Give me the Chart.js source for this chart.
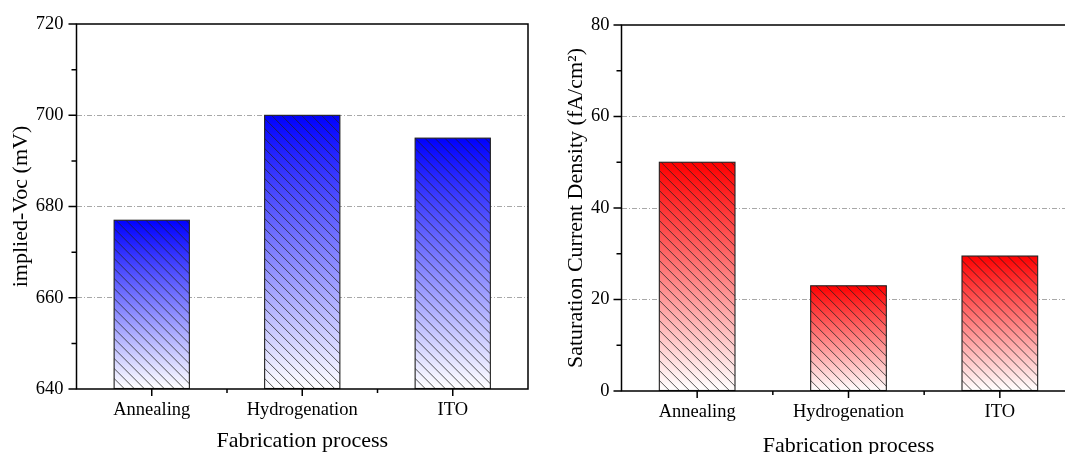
<!DOCTYPE html>
<html>
<head>
<meta charset="utf-8">
<script src="https://cdn.jsdelivr.net/npm/chart.js@4.4.1/dist/chart.umd.min.js"></script>
<style>
  html, body { margin: 0; padding: 0; background: #fff; overflow: hidden; width: 1065px; height: 454px; }
  #wrap { position: relative; width: 1065px; height: 454px; overflow: hidden; }
  canvas { position: absolute; top: 0; }
  #left { left: 0; }
  #right { left: 545px; }
</style>
</head>
<body>
<div id="wrap">
  <canvas id="left" width="545" height="454"></canvas>
  <canvas id="right" width="560" height="454"></canvas>
</div>
<script>
// Process steps on the x axis
const categories = ['Annealing', 'Hydrogenation', 'ITO'];

// implied open-circuit voltage after each step (mV)
const impliedVoc = [677, 700, 695];
const vocRange = [640, 720];

// saturation current density after each step (fA/cm²)
const saturationJ0 = [50, 23, 29.5];
const j0Range = [0, 80];

const SERIF = "'Liberation Serif', 'Times New Roman', serif";

// Gradient-filled, hatched bars plus the boxed frame with major/minor ticks
const framePlugin = {
  id: 'frame',
  afterDatasetsDraw(chart, args, opts) {
    const ctx = chart.ctx;
    const area = chart.chartArea;
    const meta = chart.getDatasetMeta(0);
    meta.data.forEach((bar) => {
      const p = bar.getProps(['x', 'y', 'base', 'width'], true);
      const x0 = p.x - p.width / 2, x1 = p.x + p.width / 2;
      const top = Math.min(p.y, p.base), bottom = Math.max(p.y, p.base);
      const g = ctx.createLinearGradient(0, top, 0, bottom);
      g.addColorStop(0, opts.color);
      g.addColorStop(1, '#ffffff');
      ctx.save();
      ctx.fillStyle = g;
      ctx.fillRect(x0, top, x1 - x0, bottom - top);
      // diagonal hatching
      ctx.beginPath();
      ctx.rect(x0, top, x1 - x0, bottom - top);
      ctx.clip();
      ctx.strokeStyle = 'rgba(35,35,35,0.85)';
      ctx.lineWidth = 0.9;
      ctx.beginPath();
      const h = bottom - top;
      for (let sx = x0 - h - 10; sx < x1 + 10; sx += 10) {
        ctx.moveTo(sx, top);
        ctx.lineTo(sx + h, bottom);
      }
      ctx.stroke();
      ctx.restore();
      ctx.save();
      ctx.strokeStyle = '#222';
      ctx.lineWidth = 1.1;
      ctx.strokeRect(x0, top, x1 - x0, bottom - top);
      ctx.restore();
    });

    const ys = chart.scales.y;
    const xs = chart.scales.x;
    ctx.save();
    ctx.strokeStyle = '#000';
    ctx.lineWidth = 1.5;
    ctx.beginPath();
    ctx.rect(area.left, area.top, area.right - area.left, area.bottom - area.top);
    ctx.stroke();

    // y ticks: major every 20, minor every 10
    ctx.beginPath();
    for (let v = ys.min; v <= ys.max; v += 10) {
      const py = ys.getPixelForValue(v);
      const len = ((v - ys.min) % 20 === 0) ? 8 : 5;
      ctx.moveTo(area.left, py);
      ctx.lineTo(area.left - len, py);
    }
    // x ticks: major at category centres, minor at boundaries
    const n = categories.length;
    for (let i = 0; i < n; i++) {
      const px = xs.getPixelForValue(i);
      ctx.moveTo(px, area.bottom);
      ctx.lineTo(px, area.bottom + 7);
    }
    for (let i = 0; i < n - 1; i++) {
      const px = (xs.getPixelForValue(i) + xs.getPixelForValue(i + 1)) / 2;
      ctx.moveTo(px, area.bottom);
      ctx.lineTo(px, area.bottom + 4);
    }
    ctx.stroke();
    ctx.restore();
  }
};

function makeChart(id, values, range, color, yTitle, geo) {
  return new Chart(document.getElementById(id), {
    type: 'bar',
    data: {
      labels: categories,
      datasets: [{
        data: values,
        base: range[0],
        backgroundColor: 'rgba(0,0,0,0)',
        borderWidth: 0,
        categoryPercentage: 1,
        barPercentage: 0.5
      }]
    },
    options: {
      responsive: false,
      animation: false,
      devicePixelRatio: 1,
      layout: { padding: { top: geo.top, right: geo.right, left: 0, bottom: 0 } },
      plugins: {
        legend: { display: false },
        tooltip: { enabled: false },
        frame: { color: color }
      },
      scales: {
        x: {
          grid: { display: false, drawTicks: false },
          border: { display: false },
          ticks: {
            color: '#000',
            padding: 10,
            font: { family: SERIF, size: 18.5 }
          },
          title: {
            display: true,
            text: 'Fabrication process',
            color: '#000',
            font: { family: SERIF, size: 22, lineHeight: 1 },
            padding: { top: 0, bottom: geo.xTitlePad }
          },
          afterFit: (s) => { s.height = geo.xHeight; }
        },
        y: {
          min: range[0],
          max: range[1],
          grid: {
            drawTicks: false,
            lineWidth: 1,
            color: (c) => (c.tick && (c.tick.value === range[0] || c.tick.value === range[1]))
              ? 'rgba(0,0,0,0)' : '#a8a8a8'
          },
          border: { display: false, dash: [5, 2, 1, 2] },
          ticks: {
            stepSize: 20,
            color: '#000',
            padding: geo.yTickPad,
            font: { family: SERIF, size: 18.5 }
          },
          title: {
            display: true,
            text: yTitle,
            color: '#000',
            font: { family: SERIF, size: 22, lineHeight: 1 },
            padding: { top: geo.yTitlePad, bottom: 0 }
          },
          afterFit: (s) => { s.width = 76.5; }
        }
      }
    },
    plugins: [framePlugin]
  });
}

makeChart('left', impliedVoc, vocRange, '#0000ff', 'implied-Voc (mV)',
  { top: 24, right: 17, xHeight: 65, xTitlePad: 1.5, yTitlePad: 10, yTickPad: 13 });
makeChart('right', saturationJ0, j0Range, '#ff0000', 'Saturation Current Density (fA/cm²)',
  { top: 25, right: 29.5, xHeight: 63, xTitlePad: -3, yTitlePad: 20, yTickPad: 12 });
</script>
</body>
</html>
